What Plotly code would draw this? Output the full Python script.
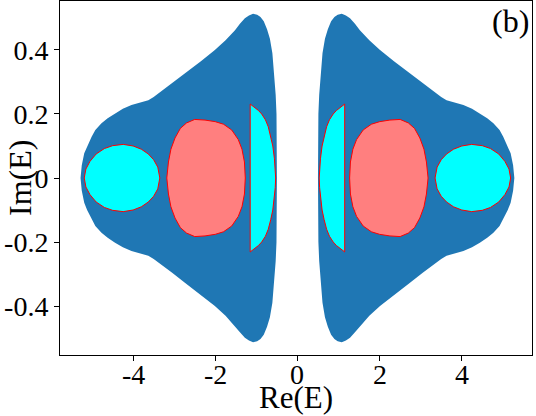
import plotly.graph_objects as go

# Outer spectrum region (right lobe, upper half; mirrored for lower half and left lobe)
lobe_x = [0.50, 0.50, 0.51, 0.53, 0.57, 0.61, 0.67, 0.74, 0.82, 0.90, 0.98, 1.08, 1.18,
          1.28, 1.40, 1.52, 1.75, 2.01, 2.35, 2.74, 3.05, 3.31, 3.50, 3.63, 3.85, 4.04,
          4.25, 4.44, 4.62, 4.77, 4.92, 5.01, 5.12, 5.19, 5.25, 5.28]
lobe_y = [0.00, 0.10, 0.20, 0.26, 0.33, 0.39, 0.435, 0.465, 0.49, 0.503, 0.510, 0.513, 0.508,
          0.499, 0.482, 0.462, 0.430, 0.400, 0.365, 0.327, 0.296, 0.270, 0.253, 0.243, 0.234, 0.228,
          0.216, 0.202, 0.187, 0.171, 0.150, 0.129, 0.100, 0.077, 0.040, 0.000]

# Outer cyan island (right, upper half)
oval_x = [3.35, 3.40, 3.50, 3.63, 3.80, 4.00, 4.24, 4.50, 4.70, 4.90, 5.05, 5.15, 5.19]
oval_y = [0.00, 0.034, 0.057, 0.075, 0.090, 0.100, 0.105, 0.101, 0.092, 0.075, 0.052, 0.028, 0.00]

# Red island (right, upper half)
blob_x = [1.27, 1.29, 1.35, 1.44, 1.60, 1.80, 2.00, 2.25, 2.50, 2.70, 2.85, 2.98, 3.08, 3.14, 3.18]
blob_y = [0.00, 0.05, 0.09, 0.12, 0.15, 0.168, 0.176, 0.181, 0.183, 0.172, 0.155, 0.125, 0.09, 0.05, 0.00]

# Inner cyan crescent (right, upper curved edge, from tip to axis)
cres_x = [1.15, 1.05, 0.95, 0.87, 0.78, 0.71, 0.65, 0.60, 0.56, 0.54, 0.53]
cres_y = [0.231, 0.222, 0.211, 0.200, 0.182, 0.160, 0.130, 0.100, 0.060, 0.030, 0.000]

x_tickvals = [-4, -2, 0, 2, 4]
x_ticktext = ["-4", "-2", "0", "2", "4"]
y_tickvals = [-0.4, -0.2, 0, 0.2, 0.4]
y_ticktext = ["-0.4", "-0.2", "0", "0.2", "0.4"]

BLUE = "#1f77b4"
CYAN = "#00ffff"
SALMON = "#ff7f7f"
RED = "#ff0000"


def closed_half(xs, ys):
    X = list(xs) + [v for v in reversed(xs)]
    Y = list(ys) + [-v for v in reversed(ys)]
    return X, Y


def crescent(xs, ys):
    X = list(xs) + [v for v in reversed(xs)]
    Y = list(ys) + [-v for v in reversed(ys)]
    X.append(xs[0])
    Y.append(ys[0])
    return X, Y


fig = go.Figure()

for sgn in (1, -1):
    X, Y = closed_half(lobe_x, lobe_y)
    fig.add_trace(go.Scatter(x=[sgn * v for v in X], y=Y, fill="toself", fillcolor=BLUE,
                             mode="lines", line=dict(width=0, color=BLUE), hoverinfo="skip"))

for sgn in (1, -1):
    X, Y = closed_half(blob_x, blob_y)
    fig.add_trace(go.Scatter(x=[sgn * v for v in X], y=[sgn * v for v in Y], fill="toself",
                             fillcolor=SALMON, mode="lines", line=dict(width=1, color=RED)))
    X, Y = closed_half(oval_x, oval_y)
    fig.add_trace(go.Scatter(x=[sgn * v for v in X], y=Y, fill="toself",
                             fillcolor=CYAN, mode="lines", line=dict(width=1, color=RED)))
    X, Y = crescent(cres_x, cres_y)
    fig.add_trace(go.Scatter(x=[sgn * v for v in X], y=Y, fill="toself",
                             fillcolor=CYAN, mode="lines", line=dict(width=1, color=RED)))

FONT = "Liberation Serif, Times New Roman, serif"

annotations = [
    dict(text="(b)", x=0.997, y=1.0, xref="paper", yref="paper",
         xanchor="right", yanchor="top", showarrow=False,
         font=dict(family=FONT, size=32, color="black")),
    dict(text="Re(E)", x=0.5, y=0, xref="paper", yref="paper", xanchor="center",
         yanchor="middle", yshift=-42, showarrow=False,
         font=dict(family=FONT, size=31, color="black")),
    dict(text="Im(E)", x=0, y=0.5, xref="paper", yref="paper", xanchor="center",
         yanchor="middle", xshift=-40, textangle=-90, showarrow=False,
         font=dict(family=FONT, size=32, color="black")),
]
for v, t in zip(x_tickvals, x_ticktext):
    annotations.append(dict(text=t, x=v, y=0, xref="x", yref="paper", xanchor="center",
                            yanchor="middle", yshift=-19, showarrow=False,
                            font=dict(family=FONT, size=28, color="black")))

fig.update_layout(
    width=536, height=416,
    margin=dict(l=60, r=4, t=1, b=61, autoexpand=False),
    paper_bgcolor="white", plot_bgcolor="white",
    showlegend=False,
    font=dict(family=FONT, size=28, color="black"),
    xaxis=dict(range=[-5.78, 5.71], showgrid=False, zeroline=False, automargin=False,
               showline=True, linecolor="black", linewidth=1, mirror=True,
               ticks="outside", ticklen=5, tickcolor="black",
               tickvals=x_tickvals, showticklabels=False),
    yaxis=dict(range=[-0.553, 0.553], showgrid=False, zeroline=False, automargin=False,
               showline=True, linecolor="black", linewidth=1, mirror=True,
               ticks="outside", ticklen=5, tickcolor="black",
               tickvals=y_tickvals, ticktext=y_ticktext,
               tickfont=dict(family=FONT, size=28, color="black")),
    annotations=annotations,
)

fig.write_html("out.html", config={"displayModeBar": False},
               post_script="document.body.style.margin='0';")
